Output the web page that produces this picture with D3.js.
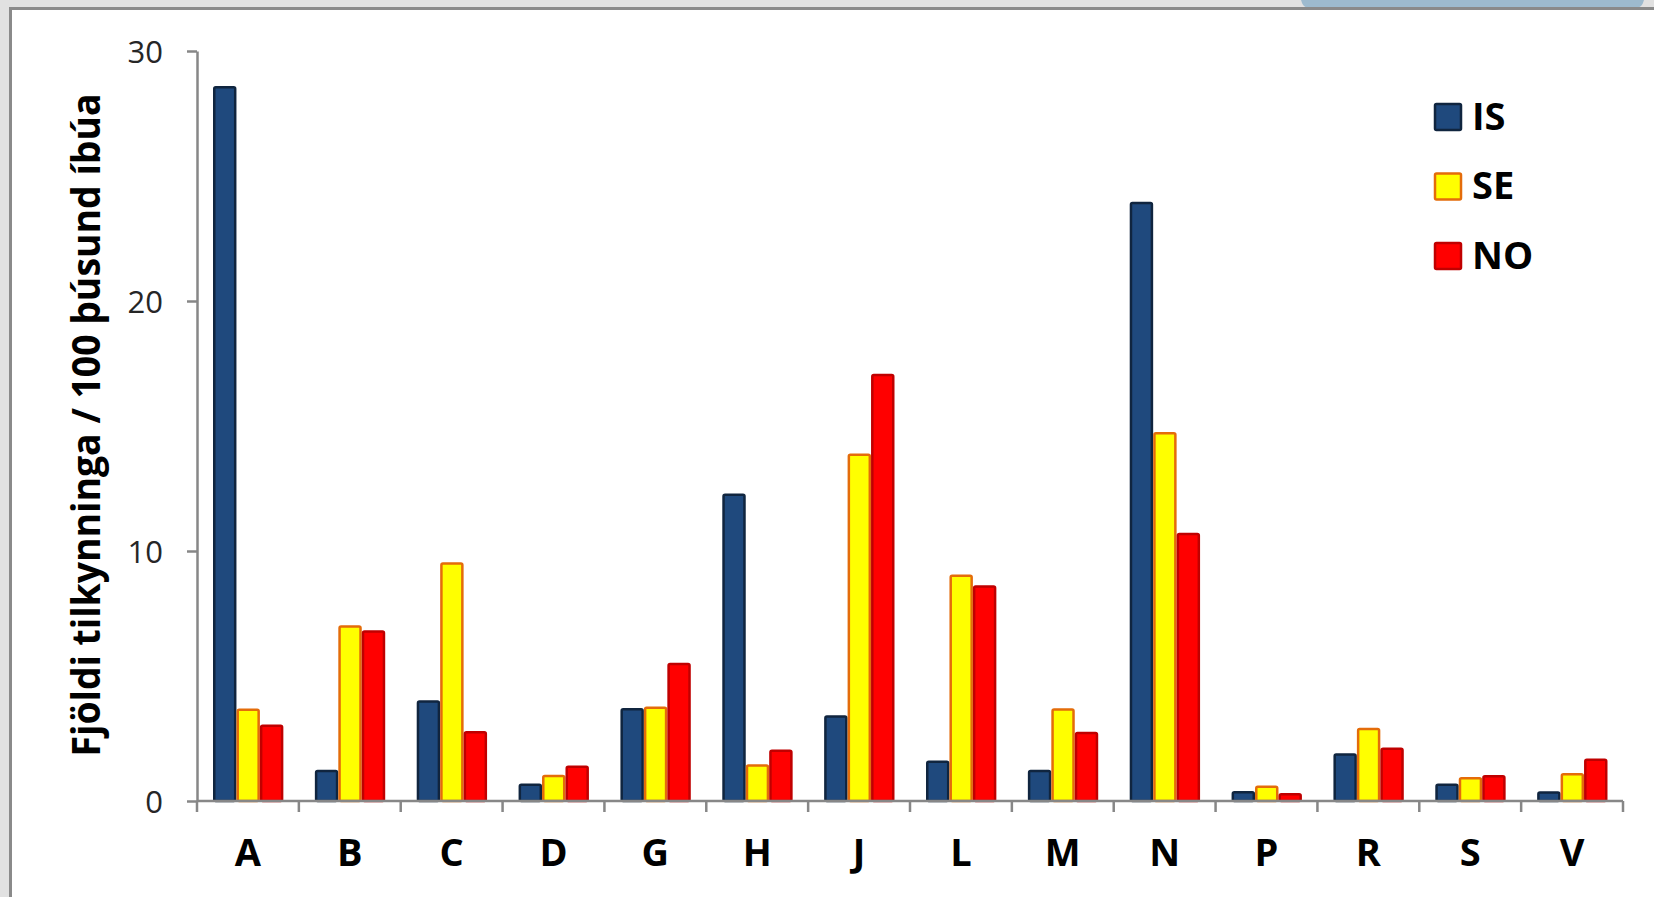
<!DOCTYPE html>
<html>
<head>
<meta charset="utf-8">
<script src="https://cdn.jsdelivr.net/npm/d3@7"></script>
<style>
  html, body { margin: 0; padding: 0; background: #e1e1e1; }
  svg { display: block; }
</style>
</head>
<body>
<script>
const categories = ["A","B","C","D","G","H","J","L","M","N","P","R","S","V"];
const seriesNames = ["IS","SE","NO"];
const valuesIS = [28.6, 1.25, 4.03, 0.70, 3.72, 12.3, 3.43, 1.62, 1.25, 23.97, 0.40, 1.91, 0.70, 0.39];
const valuesSE = [3.70, 7.03, 9.55, 1.05, 3.78, 1.47, 13.9, 9.06, 3.71, 14.76, 0.62, 2.93, 0.96, 1.12];
const valuesNO = [3.06, 6.83, 2.80, 1.42, 5.53, 2.06, 17.09, 8.63, 2.77, 10.73, 0.32, 2.14, 1.04, 1.70];
const yTicks = [0, 10, 20, 30];
const yTitle = "Fjöldi tilkynninga / 100 þúsund íbúa";

const W = 1654, H = 897;
const fills = {IS: "#1f497d", SE: "#ffff00", NO: "#ff0000"};
const strokes = {IS: "#10253f", SE: "#e46c0a", NO: "#c00000"};
const seriesValues = {IS: valuesIS, SE: valuesSE, NO: valuesNO};

const svg = d3.select("body").append("svg").attr("width", W).attr("height", H);

// outer frame / background
svg.append("rect").attr("x", 0).attr("y", 0).attr("width", W).attr("height", H).attr("fill", "#e1e1e1");
svg.append("path").attr("d", "M1301,0 Q1303,8 1309,8 L1636,8 Q1642,8 1644,0 Z").attr("fill", "#9dbace");
svg.append("rect").attr("x", 10).attr("y", 8).attr("width", W - 10).attr("height", H - 8).attr("fill", "#ffffff");
svg.append("line").attr("x1", 9).attr("x2", W).attr("y1", 8.5).attr("y2", 8.5).attr("stroke", "#8a8a8a").attr("stroke-width", 3);
svg.append("line").attr("x1", 10.5).attr("x2", 10.5).attr("y1", 7).attr("y2", H).attr("stroke", "#8a8a8a").attr("stroke-width", 3);

const x0 = d3.scaleBand().domain(categories).range([197, 1623]).padding(0);
const groupPad = 16;
const x1 = d3.scaleBand().domain(seriesNames).range([groupPad, x0.bandwidth() - groupPad + 0.5]).padding(0);
const y = d3.scaleLinear().domain([0, 30]).range([801, 51]);

const font = "'Open Sans', 'Noto Sans', sans-serif";
const sw = 2.5;

// bars
const groups = svg.append("g").selectAll("g").data(categories).join("g")
  .attr("transform", d => `translate(${x0(d)},0)`);
groups.selectAll("rect")
  .data((c, i) => seriesNames.map(s => ({s, v: seriesValues[s][i]})))
  .join("rect")
  .attr("x", d => x1(d.s) + sw / 2)
  .attr("width", x1.bandwidth() - sw)
  .attr("y", d => y(d.v) + sw / 2)
  .attr("height", d => Math.max(0, y(0) - y(d.v) - sw / 2))
  .attr("rx", 1.5)
  .attr("fill", d => fills[d.s])
  .attr("stroke", d => strokes[d.s])
  .attr("stroke-width", sw);

// y axis
const axisColor = "#878787";
const yAxis = svg.append("g").attr("transform", "translate(197,0)")
  .call(d3.axisLeft(y).tickValues(yTicks).tickSize(10).tickSizeOuter(0).tickPadding(24).tickFormat(d3.format("d")));
yAxis.select(".domain").attr("stroke", axisColor).attr("stroke-width", 2.5);
yAxis.selectAll(".tick line").attr("stroke", axisColor).attr("stroke-width", 2.5);
yAxis.selectAll(".tick text").attr("font-family", font).attr("font-size", 31).attr("fill", "#262626").attr("dy", "0.36em");

// x axis
const xAxisG = svg.append("g");
xAxisG.append("line").attr("x1", 197).attr("x2", 1623).attr("y1", y(0)).attr("y2", y(0))
  .attr("stroke", axisColor).attr("stroke-width", 2.5);
const edges = categories.map(c => x0(c)).concat([x0.range()[1]]);
xAxisG.selectAll("line.tk").data(edges).join("line").attr("class", "tk")
  .attr("x1", d => d).attr("x2", d => d).attr("y1", y(0)).attr("y2", y(0) + 11)
  .attr("stroke", axisColor).attr("stroke-width", 2.5);
xAxisG.selectAll("text").data(categories).join("text")
  .attr("x", d => x0(d) + x0.bandwidth() / 2)
  .attr("y", 866)
  .attr("text-anchor", "middle")
  .attr("font-family", font).attr("font-weight", "bold").attr("font-size", 38).attr("fill", "#000")
  .text(d => d);

// y title
svg.append("text")
  .attr("transform", "translate(100,425) rotate(-90)")
  .attr("text-anchor", "middle")
  .attr("font-family", font).attr("font-weight", "bold").attr("font-size", 39).attr("fill", "#000")
  .attr("textLength", 663).attr("lengthAdjust", "spacingAndGlyphs")
  .text(yTitle);

// legend
const legend = svg.append("g").selectAll("g").data(seriesNames).join("g")
  .attr("transform", (d, i) => `translate(1434,${103 + i * 69.5})`);
legend.append("rect").attr("x", 1).attr("y", 1).attr("width", 26).attr("height", 26).attr("rx", 1.5)
  .attr("fill", d => fills[d]).attr("stroke", d => strokes[d]).attr("stroke-width", 2.5);
legend.append("text").attr("x", 38).attr("y", 26.5)
  .attr("font-family", font).attr("font-weight", "bold").attr("font-size", 38).attr("fill", "#000")
  .text(d => d);
</script>
</body>
</html>
